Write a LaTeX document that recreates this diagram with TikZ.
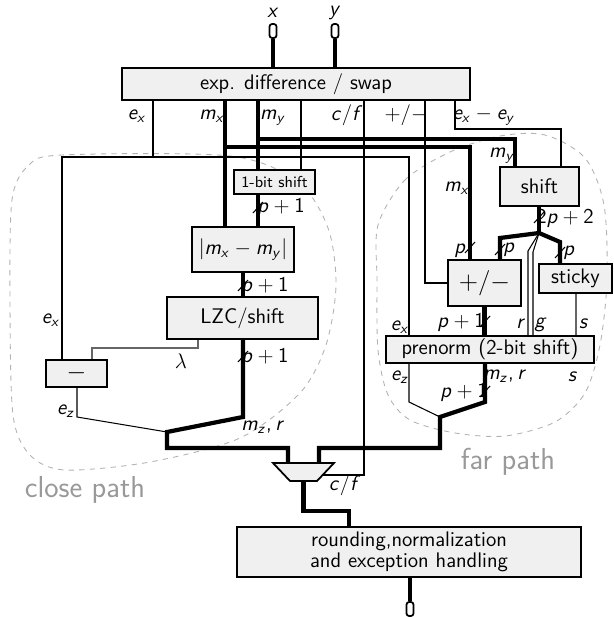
\documentclass[tikz,border=0pt]{standalone}
\usetikzlibrary{calc}

% maths en sans serif (italique)
\DeclareSymbolFont{operators}{OT1}{cmss}{m}{n}
\DeclareSymbolFont{letters}{OT1}{cmss}{m}{sl}
\DeclareSymbolFont{mletters}{OML}{cmm}{m}{it}
\DeclareMathSymbol{\lambda}{\mathord}{mletters}{"15}
\DeclareMathSymbol{/}{\mathord}{operators}{"2F}
\DeclareMathSymbol{,}{\mathpunct}{operators}{"2C}

\tikzset{
  box/.style={draw, line width=1pt, fill=gray!12, inner sep=0pt},
  port/.style={draw, line width=1pt, fill=white, rounded corners=1.5pt,
    minimum width=0.14cm, minimum height=0.28cm, inner sep=0pt},
  bus/.style={line width=2.4pt},
  wire/.style={line width=0.6pt},
  ctrl/.style={line width=0.6pt, gray!80!black},
  region/.style={dashed, gray!60, line width=0.5pt},
  lbl/.style={inner sep=1pt},
  zone/.style={inner sep=0pt, text=gray!80, font=\LARGE\sffamily},
}

\begin{document}
\begin{tikzpicture}[x=0.02cm, y=-0.02cm, font=\large\sffamily]
  \useasboundingbox (0,0) rectangle (613,617);

  % close path / far path
  \draw[region] plot[smooth cycle] coordinates {(62,155) (230,156) (298,182) (328,228)
    (336,285) (326,345) (300,393) (240,438) (150,462) (65,470) (30,455) (13,415)
    (10,300) (12,200) (28,166)};
  \draw[region] plot[smooth cycle] coordinates {(378,225) (405,180) (450,152) (500,136)
    (545,135) (585,158) (604,205) (607,280) (600,345) (585,393) (555,422) (505,436)
    (455,433) (410,420) (388,395) (378,350) (377,280)};
  \node[zone] (close) at (85,490) {close path};
  \node[zone] (far) at (508,462) {far path};

  % Blocs
  \node[box, minimum width=6.96cm, minimum height=0.64cm] (exd) at (296,84) {exp. difference / swap};
  \node[box, minimum width=1.62cm, minimum height=0.48cm, font=\small\sffamily] (onebit) at (274.5,182) {1-bit shift};
  \node[box, minimum width=2.04cm, minimum height=0.9cm] (absd) at (243,249.5) {$|m_x - m_y|$};
  \node[box, minimum width=3.02cm, minimum height=0.84cm] (lzc) at (242.5,318) {LZC/shift};
  \node[box, minimum width=1.22cm, minimum height=0.54cm, font=\Large\sffamily] (sub) at (76.5,373.5) {$-$};
  \node[box, minimum width=1.58cm, minimum height=0.78cm] (shift) at (539.5,186.5) {shift};
  \node[box, minimum width=1.46cm, minimum height=0.92cm, font=\Large\sffamily] (addsub) at (484.5,283) {$+/-$};
  \node[box, minimum width=1.46cm, minimum height=0.58cm] (sticky) at (575.5,278.5) {sticky};
  \node[box, minimum width=4.16cm, minimum height=0.54cm] (prenorm) at (490,349.5) {prenorm (2-bit shift)};
  \node[box, minimum width=6.88cm, minimum height=1cm, align=center] (round) at (409,552)
    {rounding,normalization\\[-2pt]and exception handling};

  % multiplexeur
  \coordinate (muxin) at (303.5,463);
  \coordinate (muxout) at (303.5,481);
  \coordinate (muxsel) at (322.5,475);
  \draw[box] (273,463) -- (334,463) -- (317,481) -- (290,481) -- cycle;

  % Entrees / sortie
  \node[port] (inx) at (273,31) {};
  \node[port] (iny) at (335,31) {};
  \node[port] (outz) at (410,609) {};
  \node[lbl] (lx) at (273,13) {$x$};
  \node[lbl] (ly) at (335,13) {$y$};

  \draw[bus] (inx.south) -- (exd.north -| inx.south);
  \draw[bus] (iny.south) -- (exd.north -| iny.south);

  % sorties de exp. difference / swap
  \coordinate (exj) at (153,157);
  \draw[wire] (exd.south -| exj) -- (exj);
  \draw[wire] (sub.north -| 62,0) |- (exj) -| (prenorm.north -| 409,0);
  \draw[bus] (exd.south -| 225,0) -- (absd.north -| 225,0);
  \draw[bus] (225,147) -| (addsub.north -| 470,0);
  \draw[bus] (exd.south -| 258,0) -- (onebit.north -| 258,0);
  \draw[bus] (258,139) -| (shift.north -| 515,0);
  \draw[wire] (exd.south -| 301,0) -- (onebit.north -| 301,0);
  \draw[wire] (exd.south -| 364,0) |- (muxsel);
  \draw[wire] (exd.south -| 425,0) |- (addsub.west);
  \draw[wire] (exd.south -| 455,0) -- (455,129) -| (shift.north -| 561,0);

  % close path
  \coordinate (cl) at (167,432);
  \draw[bus] (onebit.south -| 258,0) -- (absd.north -| 258,0);
  \draw[bus] (absd.south) -- (lzc.north -| absd.south);
  \draw[bus] (lzc.south -| absd.south) -- (243,417) -- (cl) -- (167,448) -| (muxin -| 288,0);
  \draw[ctrl] (lzc.south -| 198,0) -- (198,348) -| (sub.north -| 92,0);
  \draw[wire] (sub.south -| 77,0) -- (77,417) -- (cl);

  % far path
  \coordinate (sj) at (539,233);
  \coordinate (fr) at (440,417);
  \draw[bus] (shift.south -| sj) -- (sj);
  \draw[bus] (sj) -- (500,238) -- (addsub.north -| 500,0);
  \draw[bus] (sj) -- (560,242) -- (sticky.north -| 560,0);
  \draw[wire] (sj) -- (528,251) -- (prenorm.north -| 528,0);
  \draw[wire] (sj) -- (533,252) -- (prenorm.north -| 533,0);
  \draw[bus] (addsub.south) -- (prenorm.north -| addsub.south);
  \draw[ctrl] (sticky.south -| 576,0) -- (prenorm.north -| 576,0);
  \draw[bus] (prenorm.south -| 485,0) -- (485,402) -- (fr) -- (440,448) -| (muxin -| 319,0);
  \draw[wire] (prenorm.south -| 409,0) -- (409,402) -- (fr);

  % sortie
  \draw[bus] (muxout) -- (303.5,511) -| (round.north -| 349,0);
  \draw[bus] (round.south -| outz) -- (outz.north);

  % Largeurs des bus
  \foreach \x/\y in {258/208, 243/286, 243/357, 470/248, 500/250, 539/218, 560/253, 485/322, 485/392}
    \draw[wire] (\x-5,\y+5) -- (\x+5,\y-6);

  % Labels
  \node[lbl] (l1) at (137,116) {$e_x$};
  \node[lbl] (l2) at (212,116) {$m_x$};
  \node[lbl] (l3) at (273,118) {$m_y$};
  \node[lbl] (l4) at (347,115) {$c/f$};
  \node[lbl] (l5) at (406,115) {$+/-$};
  \node[lbl] (l6) at (484,116) {$e_x - e_y$};
  \node[lbl] (l7) at (51,320) {$e_x$};
  \node[lbl] (l8) at (66,411) {$e_z$};
  \node[lbl] (l9) at (181,361) {$\lambda$};
  \node[lbl] (l10) at (263,427) {$m_z, r$};
  \node[lbl] (l11) at (281,208) {$p+1$};
  \node[lbl] (l12) at (265,287) {$p+1$};
  \node[lbl] (l13) at (265,358) {$p+1$};
  \node[lbl] (l14) at (502,156) {$m_y$};
  \node[lbl] (l15) at (457,188) {$m_x$};
  \node[lbl] (l16) at (460,251) {$p$};
  \node[lbl] (l17) at (509,250) {$p$};
  \node[lbl] (l18) at (565,219) {$2p+2$};
  \node[lbl] (l19) at (569,253) {$p$};
  \node[lbl] (l20) at (461,323) {$p+1$};
  \node[lbl] (l21) at (400,327) {$e_x$};
  \node[lbl] (l22) at (521,324) {$r$};
  \node[lbl] (l23) at (541,325) {$g$};
  \node[lbl] (l24) at (584,324) {$s$};
  \node[lbl] (l25) at (400,377) {$e_z$};
  \node[lbl] (l26) at (505,376) {$m_z, r$};
  \node[lbl] (l27) at (573,377) {$s$};
  \node[lbl] (l28) at (464,393) {$p+1$};
  \node[lbl] (l29) at (345,485) {$c/f$};

\end{tikzpicture}
\end{document}
